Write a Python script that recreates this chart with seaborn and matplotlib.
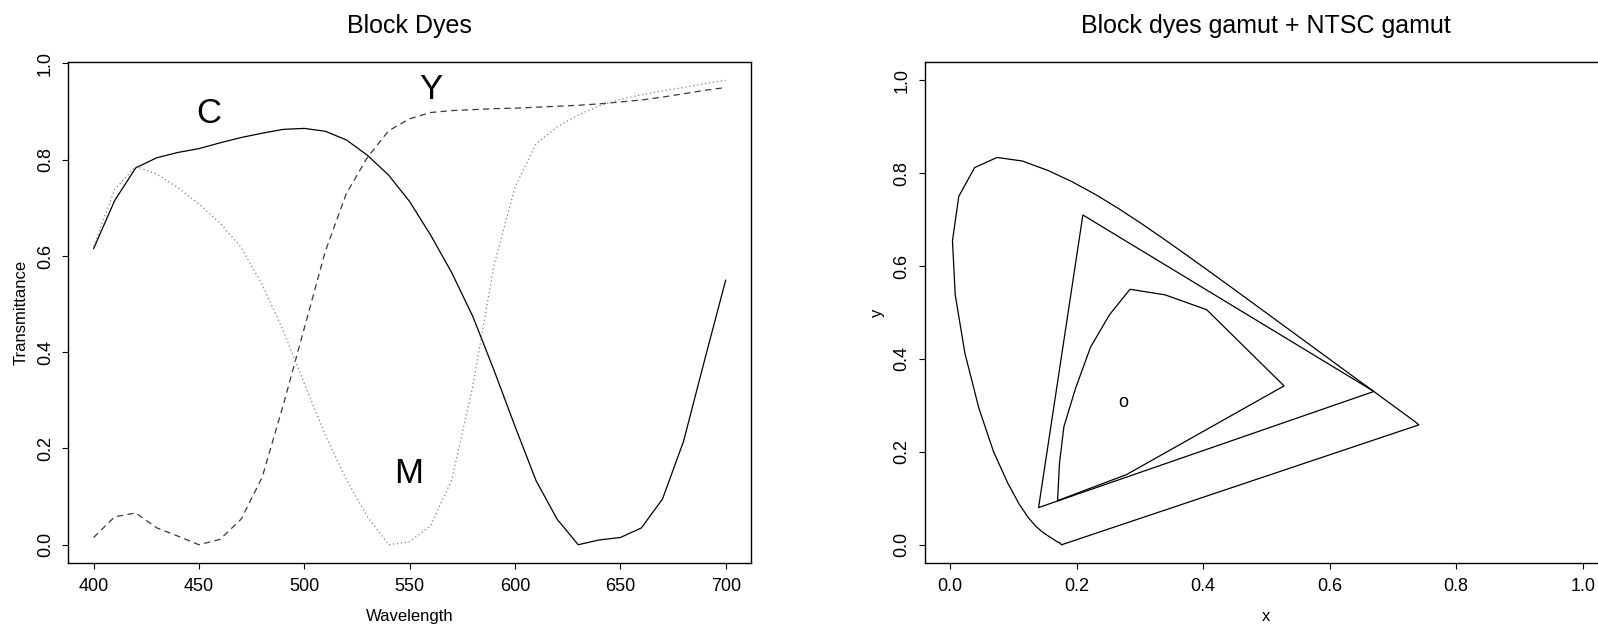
import matplotlib
matplotlib.use('Agg')
import matplotlib.pyplot as plt
import seaborn as sns
import pandas as pd

# ---- Block dye transmittance curves ----
wavelength = [400, 410, 420, 430, 440, 450, 460, 470, 480, 490, 500,
              510, 520, 530, 540, 550, 560, 570, 580, 590, 600,
              610, 620, 630, 640, 650, 660, 670, 680, 690, 700]
cyan = [0.615, 0.715, 0.783, 0.804, 0.815, 0.823, 0.835, 0.846, 0.855, 0.863, 0.865,
        0.859, 0.841, 0.809, 0.768, 0.713, 0.643, 0.565, 0.474, 0.363, 0.246,
        0.133, 0.053, 0.000, 0.010, 0.015, 0.035, 0.095, 0.215, 0.384, 0.550]
magenta = [0.620, 0.738, 0.786, 0.770, 0.742, 0.708, 0.668, 0.618, 0.540, 0.445, 0.335,
           0.228, 0.135, 0.058, 0.000, 0.006, 0.040, 0.135, 0.330, 0.580, 0.743,
           0.833, 0.868, 0.893, 0.912, 0.925, 0.935, 0.943, 0.950, 0.958, 0.965]
yellow = [0.015, 0.058, 0.066, 0.035, 0.018, 0.000, 0.011, 0.053, 0.140, 0.290, 0.450,
          0.610, 0.730, 0.805, 0.860, 0.885, 0.898, 0.902, 0.904, 0.906, 0.907,
          0.909, 0.911, 0.913, 0.916, 0.920, 0.924, 0.930, 0.937, 0.944, 0.950]

# ---- Chromaticity diagram ----
# spectral locus, blue end to red end, closed by the purple line
locus_x = [0.1765, 0.1740, 0.1738, 0.1736, 0.1733, 0.1730, 0.1726, 0.1721, 0.1714, 0.1703,
           0.1689, 0.1669, 0.1644, 0.1611, 0.1566, 0.1510, 0.1440, 0.1355, 0.1241, 0.1096,
           0.0913, 0.0687, 0.0454, 0.0235, 0.0082, 0.0039, 0.0139, 0.0389, 0.0743, 0.1142,
           0.1547, 0.1929, 0.2296, 0.2658, 0.3016, 0.3373, 0.3731, 0.4087, 0.4441, 0.4788,
           0.5125, 0.5448, 0.5752, 0.6029, 0.6270, 0.6482, 0.6658, 0.6801, 0.6915, 0.7006,
           0.7079, 0.7140, 0.7190, 0.7230, 0.7260, 0.7300, 0.7350, 0.7410, 0.1765]
locus_y = [0.0000, 0.0030, 0.0040, 0.0045, 0.0046, 0.0047, 0.0048, 0.0048, 0.0051, 0.0058,
           0.0069, 0.0086, 0.0109, 0.0138, 0.0177, 0.0227, 0.0297, 0.0399, 0.0578, 0.0868,
           0.1327, 0.2007, 0.2950, 0.4127, 0.5384, 0.6548, 0.7502, 0.8120, 0.8338, 0.8262,
           0.8059, 0.7816, 0.7543, 0.7243, 0.6923, 0.6589, 0.6245, 0.5896, 0.5547, 0.5202,
           0.4866, 0.4544, 0.4242, 0.3965, 0.3725, 0.3514, 0.3340, 0.3197, 0.3083, 0.2993,
           0.2920, 0.2859, 0.2809, 0.2770, 0.2740, 0.2700, 0.2650, 0.2580, 0.0000]
# NTSC primaries
ntsc_x = [0.67, 0.21, 0.14, 0.67]
ntsc_y = [0.33, 0.71, 0.08, 0.33]
# block dyes gamut outline
dyes_x = [0.170, 0.173, 0.180, 0.198, 0.222, 0.252, 0.2845, 0.340, 0.4057, 0.528, 0.279, 0.170]
dyes_y = [0.095, 0.175, 0.254, 0.335, 0.425, 0.495, 0.550, 0.538, 0.506, 0.342, 0.151, 0.095]
white_x, white_y = 0.274, 0.306

sns.set_theme(style='ticks')
plt.rcParams['font.family'] = ['Liberation Sans', 'DejaVu Sans']
plt.rcParams['axes.linewidth'] = 1.0
plt.rcParams['text.color'] = 'black'
plt.rcParams['axes.labelcolor'] = 'black'

fig = plt.figure(figsize=(15.98, 6.25), dpi=100)
ax1 = fig.add_axes([68.3 / 1598, 0.0987, 682.7 / 1598, 0.8026])
ax2 = fig.add_axes([924.7 / 1598, 0.0987, 683.3 / 1598, 0.8026])

df = pd.DataFrame({'Wavelength': wavelength, 'C': cyan, 'M': magenta, 'Y': yellow})
sns.lineplot(data=df, x='Wavelength', y='C', ax=ax1, color='black', lw=0.9)
sns.lineplot(data=df, x='Wavelength', y='Y', ax=ax1, color='#3a3a3a', lw=0.9,
             dashes=False).lines[-1].set_dashes((5, 3.5))
sns.lineplot(data=df, x='Wavelength', y='M', ax=ax1, color='#808080', lw=0.9,
             dashes=False).lines[-1].set_dashes((1, 2.2))
ax1.text(454.7, 0.895, 'C', fontsize=25, ha='center', va='center')
ax1.text(560.2, 0.946, 'Y', fontsize=25, ha='center', va='center')
ax1.text(549.5, 0.147, 'M', fontsize=25, ha='center', va='center')
ax1.set_xlim(388, 712)
ax1.set_ylim(-0.0386, 1.0036)
ax1.set_xticks([400, 450, 500, 550, 600, 650, 700])
ax1.set_yticks([0.0, 0.2, 0.4, 0.6, 0.8, 1.0])
ax1.set_yticklabels(['0.0', '0.2', '0.4', '0.6', '0.8', '1.0'])
ax1.set_xlabel('Wavelength', fontsize=12)
ax1.set_ylabel('Transmittance', fontsize=12)
ax1.set_title('Block Dyes', fontsize=18, pad=21, color='black')

sns.lineplot(x=locus_x, y=locus_y, ax=ax2, sort=False, estimator=None, color='black', lw=0.9)
sns.lineplot(x=ntsc_x, y=ntsc_y, ax=ax2, sort=False, estimator=None, color='black', lw=0.9)
sns.lineplot(x=dyes_x, y=dyes_y, ax=ax2, sort=False, estimator=None, color='black', lw=0.9)
ax2.text(white_x, white_y, 'o', fontsize=13, ha='center', va='center')
ax2.set_xlim(-0.04, 1.04)
ax2.set_ylim(-0.04, 1.04)
ax2.set_xticks([0.0, 0.2, 0.4, 0.6, 0.8, 1.0])
ax2.set_xticklabels(['0.0', '0.2', '0.4', '0.6', '0.8', '1.0'])
ax2.set_yticks([0.0, 0.2, 0.4, 0.6, 0.8, 1.0])
ax2.set_yticklabels(['0.0', '0.2', '0.4', '0.6', '0.8', '1.0'])
ax2.set_xlabel('x', fontsize=12)
ax2.set_ylabel('y', fontsize=12)
ax2.set_title('Block dyes gamut + NTSC gamut', fontsize=18, pad=21, color='black')

for ax in (ax1, ax2):
    for s in ax.spines.values():
        s.set_visible(True)
        s.set_color('black')
    ax.tick_params(direction='out', length=4.3, width=0.8, labelsize=13, pad=6, colors='black')
    for lab in ax.get_yticklabels():
        lab.set_rotation(90)
        lab.set_va('center')
    ax.xaxis.set_label_coords(0.5, -0.092)
    ax.yaxis.set_label_coords(-0.058, 0.5)

fig.savefig('out.png', dpi=100)
